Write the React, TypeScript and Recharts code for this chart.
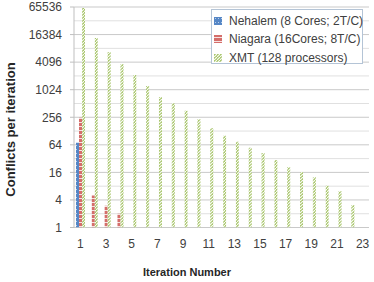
import React from 'react';
import { BarChart, Bar, XAxis, YAxis, CartesianGrid, Legend } from 'recharts';

const iterations = [1, 2, 3, 4, 5, 6, 7, 8, 9, 10, 11, 12, 13, 14, 15, 16, 17, 18, 19, 20, 21, 22, 23];
const nehalem: (number | null)[] = [71, null, null, null, null, null, null, null, null, null, null, null, null, null, null, null, null, null, null, null, null, null, null];
const niagara: (number | null)[] = [250, 5, 3, 2, null, null, null, null, null, null, null, null, null, null, null, null, null, null, null, null, null, null, null];
const xmt: (number | null)[] = [62000, 13800, 6830, 3730, 2140, 1235, 710, 517, 356, 231, 147, 101, 75, 55, 42.5, 29.8, 20.7, 16.3, 12.5, 8.2, 6.2, 3.1, null];

const seriesNames = {
  nehalem: 'Nehalem (8 Cores; 2T/C)',
  niagara: 'Niagara (16Cores; 8T/C)',
  xmt: 'XMT (128 processors)',
};

const yTicks = [1, 4, 16, 64, 256, 1024, 4096, 16384, 65536];
const minorGridValues = [2, 8, 32, 128, 512, 2048, 8192, 32768];
const bandBoundaries = [0, 1, 2, 3, 4, 5, 6, 7, 8, 9, 10, 11, 12, 13, 14, 15, 16, 17, 18, 19, 20, 21, 22, 23];
const oddLabels = iterations.filter((v) => v % 2 === 1);

const data = iterations.map((it, i) => ({
  iter: it,
  nehalem: nehalem[i],
  niagara: niagara[i],
  xmt: xmt[i],
}));

const FONT = "'Liberation Sans', Arial, sans-serif";
const AXIS_COLOR = '#bfbfbf';
const TEXT_COLOR = '#404040';

const patternIds: Record<string, string> = {
  nehalem: 'patNehalem',
  niagara: 'patNiagara',
  xmt: 'patXmt',
};

const LegendContent = (props: any) => {
  const payload = props.payload || [];
  return (
    <div
      style={{
        border: '1px solid #b4c4d6',
        background: '#fff',
        width: 152,
        height: 55,
        boxSizing: 'border-box',
        padding: '2px 0 0 2px',
        fontFamily: FONT,
        fontSize: 12,
        color: TEXT_COLOR,
        overflow: 'visible',
      }}
    >
      {payload.map((entry: any) => (
        <div key={entry.dataKey} style={{ display: 'flex', alignItems: 'center', height: 18.3, whiteSpace: 'nowrap' }}>
          <svg width={8} height={8} style={{ display: 'block', flexShrink: 0 }}>
            <rect x={0} y={0} width={8} height={8} fill={`url(#${patternIds[entry.dataKey]})`} />
          </svg>
          <span style={{ marginLeft: 7, flexShrink: 0 }}>{entry.value}</span>
        </div>
      ))}
    </div>
  );
};

const YTitle = () => (
  <text
    x={10}
    y={129.5}
    transform="rotate(-90 10 129.5)"
    textAnchor="middle"
    dominantBaseline="central"
    fontFamily={FONT}
    fontWeight="bold"
    fontSize={13}
    fill="#262626"
  >
    Conflicts per iteration
  </text>
);

const XTitle = () => (
  <text
    x={187}
    y={272}
    textAnchor="middle"
    dominantBaseline="central"
    fontFamily={FONT}
    fontWeight="bold"
    fontSize={11}
    fill="#262626"
  >
    Iteration Number
  </text>
);

export default function App() {
  return (
    <div style={{ position: 'absolute', left: 0, top: 0 }}>
      <BarChart
        width={374}
        height={282}
        data={data}
        margin={{ top: 7, right: 5, bottom: 0, left: 0 }}
        barGap={0}
        barSize={3}
      >
        <defs>
          <pattern id="patNehalem" width="3" height="4" patternUnits="userSpaceOnUse">
            <rect width="3" height="4" fill="#5687c6" />
            <rect x="1" y="1" width="1" height="1" fill="#ffffff" fillOpacity="0.6" />
          </pattern>
          <pattern id="patNiagara" width="3" height="4" patternUnits="userSpaceOnUse">
            <rect width="3" height="4" fill="#d46e6b" />
            <rect x="0" y="2" width="3" height="1" fill="#ffffff" fillOpacity="0.8" />
          </pattern>
          <pattern id="patXmt" width="3" height="3" patternUnits="userSpaceOnUse">
            <rect width="3" height="3" fill="#a9c66d" />
            <path d="M0,3 L3,0" stroke="#ffffff" strokeWidth="1.1" strokeOpacity="0.95" />
          </pattern>
        </defs>
        <CartesianGrid
          xAxisId="cat"
          vertical={false}
          horizontalValues={minorGridValues}
          stroke="#e0e0e0"
        />
        <CartesianGrid xAxisId="cat" vertical={false} horizontalValues={yTicks} stroke="#c9c9c9" />
        <XAxis
          xAxisId="bounds"
          dataKey="iter"
          type="number"
          domain={[0, 23]}
          allowDataOverflow
          ticks={bandBoundaries}
          interval={0}
          height={0}
          tick={false}
          tickSize={5}
          tickLine={{ stroke: AXIS_COLOR }}
          axisLine={{ stroke: AXIS_COLOR }}
        />
        <XAxis
          xAxisId="cat"
          dataKey="iter"
          ticks={oddLabels}
          interval={0}
          height={54.5}
          tickLine={false}
          axisLine={false}
          tickSize={6}
          tickMargin={6}
          tick={{ fontFamily: FONT, fontSize: 12, fill: TEXT_COLOR }}
        />
        <YAxis
          scale="log"
          domain={[1, 65536]}
          allowDataOverflow
          ticks={yTicks}
          interval={0}
          width={74}
          tickSize={4}
          tickMargin={8}
          tickLine={{ stroke: AXIS_COLOR }}
          axisLine={{ stroke: AXIS_COLOR }}
          tick={{ fontFamily: FONT, fontSize: 12, fill: TEXT_COLOR }}
        />
        <Legend
          layout="horizontal"
          verticalAlign="middle"
          align="center"
          content={<LegendContent />}
          wrapperStyle={{ left: 211, top: 9, width: 152, height: 55 }}
        />
        <Bar xAxisId="cat" dataKey="nehalem" name={seriesNames.nehalem} fill="url(#patNehalem)" isAnimationActive={false} />
        <Bar xAxisId="cat" dataKey="niagara" name={seriesNames.niagara} fill="url(#patNiagara)" isAnimationActive={false} />
        <Bar xAxisId="cat" dataKey="xmt" name={seriesNames.xmt} fill="url(#patXmt)" isAnimationActive={false} />
        <YTitle />
        <XTitle />
      </BarChart>
    </div>
  );
}
